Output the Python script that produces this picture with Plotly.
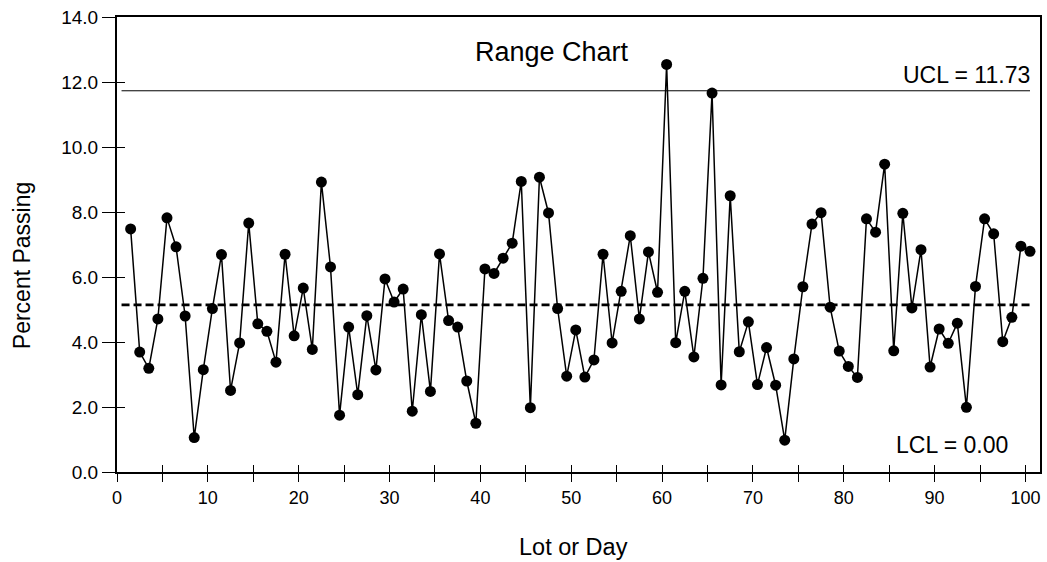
import plotly.graph_objects as go

# Subgroup ranges (n = 4) for each lot, in lot order 1..100
lots = list(range(1, 101))
ranges = [7.48, 3.69, 3.19, 4.71, 7.82, 6.93, 4.80, 1.06, 3.15, 5.03,
          6.69, 2.51, 3.97, 7.66, 4.56, 4.33, 3.38, 6.70, 4.19, 5.66,
          3.77, 8.92, 6.31, 1.75, 4.46, 2.38, 4.81, 3.14, 5.94, 5.23,
          5.63, 1.87, 4.84, 2.48, 6.71, 4.66, 4.46, 2.80, 1.50, 6.25,
          6.11, 6.58, 7.04, 8.94, 1.98, 9.07, 7.97, 5.03, 2.95, 4.37,
          2.92, 3.45, 6.70, 3.97, 5.56, 7.27, 4.71, 6.77, 5.53, 12.54,
          3.98, 5.56, 3.54, 5.96, 11.66, 2.68, 8.50, 3.70, 4.62, 2.69,
          3.83, 2.67, 0.98, 3.48, 5.70, 7.63, 7.98, 5.07, 3.72, 3.25,
          2.91, 7.79, 7.38, 9.47, 3.73, 7.96, 5.05, 6.84, 3.23, 4.40,
          3.96, 4.58, 1.99, 5.71, 7.79, 7.33, 4.01, 4.76, 6.95, 6.79]

ucl = 11.73
lcl = 0.00
r_bar = 5.14

x_ticks = list(range(0, 101, 5))
x_ticktext = [str(v) if v % 10 == 0 else "" for v in x_ticks]
y_ticks = [0, 2, 4, 6, 8, 10, 12, 14]

FONT = "Liberation Sans, Arial, sans-serif"

# each lot is plotted in the middle of its unit-wide slot
xs = [l + 0.5 for l in lots]
x_lo = lots[0] - 0.5
x_hi = lots[-1] + 0.5

fig = go.Figure()

fig.add_trace(go.Scatter(
    x=[x_lo, x_hi], y=[ucl, ucl], mode="lines",
    line=dict(color="black", width=1), hoverinfo="skip", showlegend=False))
fig.add_trace(go.Scatter(
    x=[x_lo, x_hi], y=[r_bar, r_bar], mode="lines",
    line=dict(color="black", width=2.7, dash="8px,4px"),
    hoverinfo="skip", showlegend=False))
fig.add_trace(go.Scatter(
    x=xs, y=ranges, mode="lines+markers",
    line=dict(color="black", width=1.5),
    marker=dict(color="black", size=11),
    showlegend=False))

x_range = [0, 101.6]
y_range = [0, 14]

axis_common = dict(showgrid=False, zeroline=False, showline=True,
                   linecolor="black", linewidth=2, tickcolor="black",
                   tickwidth=1.3)

fig.update_layout(
    width=1047, height=562,
    margin=dict(l=117, r=5, t=17, b=90),
    paper_bgcolor="white", plot_bgcolor="white",
    font=dict(family=FONT, color="black"),
    xaxis=dict(range=x_range, tickvals=x_ticks, ticktext=x_ticktext,
               ticks="outside", ticklen=8, mirror=True,
               tickfont=dict(size=18, family=FONT), **axis_common),
    yaxis=dict(range=y_range, tickvals=y_ticks, tickformat=".1f",
               ticks="outside", ticklen=13, mirror=True,
               tickfont=dict(size=19, family=FONT), **axis_common),
    # companion axes carry the inner half of each cross tick
    xaxis2=dict(range=x_range, overlaying="x", anchor="y", side="bottom",
                tickvals=x_ticks, ticks="inside", ticklen=7,
                showticklabels=False, showgrid=False, zeroline=False,
                showline=False, tickcolor="black", tickwidth=1.3),
    yaxis2=dict(range=y_range, overlaying="y", anchor="x", side="left",
                tickvals=y_ticks, ticks="inside", ticklen=8,
                showticklabels=False, showgrid=False, zeroline=False,
                showline=False, tickcolor="black", tickwidth=1.3),
)

# invisible carrier so the companion axes are drawn
fig.add_trace(go.Scatter(x=[None], y=[None], xaxis="x2", yaxis="y2",
                         showlegend=False, hoverinfo="skip"))

fig.add_annotation(x=47.9, y=12.93, xref="x", yref="y", text="Range Chart",
                   showarrow=False, font=dict(size=27, family=FONT),
                   xanchor="center", yanchor="middle")
fig.add_annotation(x=100.7, y=ucl, xref="x", yref="y",
                   text=f"UCL = {ucl:.2f}", showarrow=False,
                   font=dict(size=23, family=FONT),
                   xanchor="right", yanchor="bottom", yshift=1)
fig.add_annotation(x=98.3, y=lcl, xref="x", yref="y",
                   text=f"LCL = {lcl:.2f}", showarrow=False,
                   font=dict(size=23, family=FONT),
                   xanchor="right", yanchor="bottom", yshift=12)
fig.add_annotation(x=574, y=547, xref="paper", yref="paper",
                   text="Lot or Day", showarrow=False,
                   font=dict(size=23.5, family=FONT),
                   xanchor="center", yanchor="middle")
fig.add_annotation(x=22, y=266, xref="paper", yref="paper",
                   text="Percent Passing", showarrow=False, textangle=-90,
                   font=dict(size=23, family=FONT),
                   xanchor="center", yanchor="middle")

# convert the two axis-title positions from pixels to paper fractions
pw = 1047 - 117 - 5
ph = 562 - 17 - 90
for ann in fig.layout.annotations[3:]:
    ann.x = (ann.x - 117) / pw
    ann.y = (562 - 90 - ann.y) / ph

fig.write_html("out.html")
